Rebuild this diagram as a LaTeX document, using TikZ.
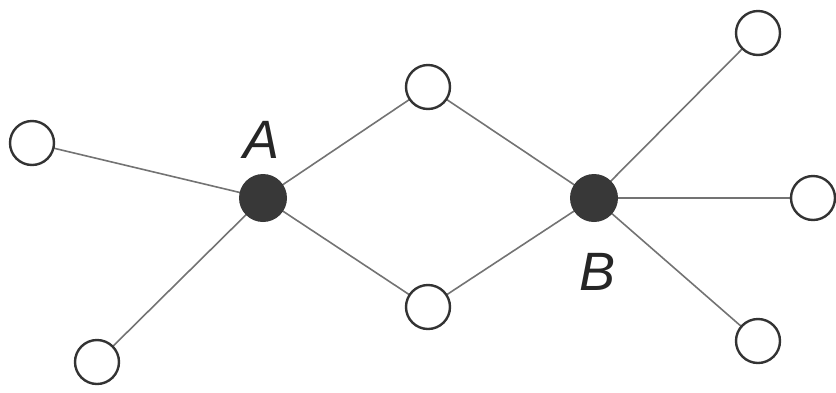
\documentclass[tikz,border=0pt]{standalone}
\usepackage{fontspec}
\setmainfont{Liberation Sans}
\begin{document}
\begin{tikzpicture}[x=1pt,y=-1pt,
  open/.style={circle,draw=black!80,line width=2.4pt,fill=white,minimum size=44pt,inner sep=0pt},
  hub/.style={circle,fill=black!78,minimum size=48pt,inner sep=0pt},
  edge/.style={draw=black!55,line width=1.6pt},
  lab/.style={font=\fontsize{54}{54}\selectfont\itshape,text=black!85,inner sep=0pt}]
\useasboundingbox (0,0) rectangle (836,392);
\clip (0,0) rectangle (836,392);
\coordinate (cL) at (32,143);
\coordinate (cBL) at (97,362);
\coordinate (cA) at (263,198);
\coordinate (cT) at (428,87);
\coordinate (cBm) at (428,307);
\coordinate (cB) at (594,198);
\coordinate (cTR) at (758,33);
\coordinate (cR) at (813,198);
\coordinate (cBR) at (758,341);
\draw[edge] (cL) -- (cA);
\draw[edge] (cBL) -- (cA);
\draw[edge] (cA) -- (cT);
\draw[edge] (cA) -- (cBm);
\draw[edge] (cT) -- (cB);
\draw[edge] (cBm) -- (cB);
\draw[edge] (cB) -- (cTR);
\draw[edge] (cB) -- (cR);
\draw[edge] (cB) -- (cBR);
\node[open] (L) at (cL) {};
\node[open] (BL) at (cBL) {};
\node[open] (T) at (cT) {};
\node[open] (Bm) at (cBm) {};
\node[open] (TR) at (cTR) {};
\node[open] (R) at (cR) {};
\node[open] (BR) at (cBR) {};
\node[hub] (A) at (cA) {};
\node[hub] (B) at (cB) {};
\node[lab] (labA) at (262,140) {A};
\node[lab] (labB) at (598,272) {B};
\end{tikzpicture}
\end{document}
